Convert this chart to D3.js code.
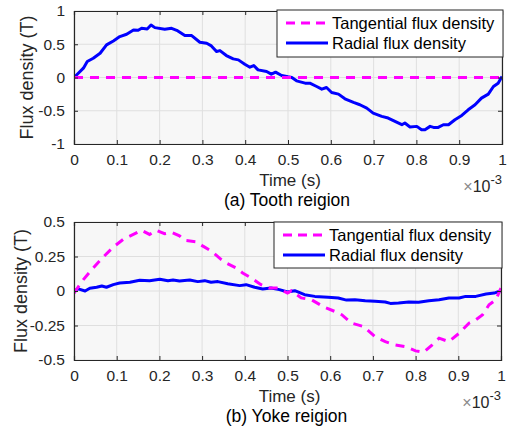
<!DOCTYPE html>
<html>
<head>
<meta charset="utf-8">
<script src="https://cdn.jsdelivr.net/npm/d3@7"></script>
<style>
  body { margin: 0; background: #fff; }
  svg { display: block; font-family: Arial, "Liberation Sans", sans-serif; }
</style>
</head>
<body>
<svg id="chart" width="515" height="430"></svg>
<script>
// time in units of 1e-3 s
const xTicks = [0, 0.1, 0.2, 0.3, 0.4, 0.5, 0.6, 0.7, 0.8, 0.9, 1];
const toothYTicks = [-1, -0.5, 0, 0.5, 1];
const yokeYTicks = [-0.5, -0.25, 0, 0.25, 0.5];
const legendLabels = ['Tangential flux density', 'Radial flux density'];

const toothTangential = [[0, 0], [1, 0]];
const toothRadial = [
  [0, 0], [0.022, 0.14], [0.031, 0.24], [0.045, 0.29], [0.061, 0.365], [0.076, 0.49],
  [0.092, 0.55], [0.107, 0.615], [0.123, 0.65], [0.139, 0.715], [0.150, 0.71], [0.158, 0.74],
  [0.171, 0.73], [0.180, 0.79], [0.189, 0.75], [0.212, 0.725], [0.228, 0.74], [0.240, 0.71],
  [0.259, 0.63], [0.275, 0.63], [0.294, 0.53], [0.310, 0.515], [0.321, 0.475], [0.333, 0.39],
  [0.341, 0.405], [0.356, 0.33], [0.372, 0.28], [0.384, 0.265], [0.399, 0.2], [0.411, 0.155],
  [0.420, 0.18], [0.430, 0.115], [0.450, 0.09], [0.461, 0.05], [0.471, 0.08], [0.485, 0.03],
  [0.500, 0.01], [0.509, 0], [0.520, -0.05], [0.540, -0.085], [0.551, -0.085], [0.567, -0.135],
  [0.579, -0.175], [0.590, -0.15], [0.602, -0.225], [0.618, -0.25], [0.633, -0.32], [0.653, -0.375],
  [0.668, -0.41], [0.684, -0.46], [0.699, -0.535], [0.719, -0.585], [0.734, -0.61], [0.750, -0.66],
  [0.766, -0.71], [0.773, -0.685], [0.785, -0.745], [0.801, -0.735], [0.812, -0.785], [0.820, -0.785],
  [0.832, -0.735], [0.840, -0.75], [0.851, -0.75], [0.863, -0.71], [0.875, -0.71], [0.890, -0.635],
  [0.906, -0.57], [0.921, -0.485], [0.937, -0.41], [0.952, -0.31], [0.968, -0.25], [0.980, -0.135],
  [0.991, -0.085], [1.000, 0.015]
];

const yokeTangential = [
  [0, -0.015], [0.022, 0.083], [0.045, 0.167], [0.068, 0.245], [0.092, 0.318], [0.115, 0.374],
  [0.139, 0.41], [0.158, 0.44], [0.177, 0.41], [0.193, 0.44], [0.212, 0.415], [0.228, 0.425],
  [0.247, 0.4], [0.259, 0.367], [0.286, 0.357], [0.302, 0.325], [0.321, 0.29], [0.345, 0.228],
  [0.356, 0.204], [0.380, 0.167], [0.395, 0.131], [0.415, 0.095], [0.438, 0.046], [0.458, 0.022],
  [0.477, 0.022], [0.500, -0.015], [0.509, 0.002], [0.532, -0.05], [0.556, -0.063], [0.587, -0.119],
  [0.611, -0.148], [0.627, -0.172], [0.650, -0.233], [0.678, -0.257], [0.705, -0.33], [0.729, -0.367],
  [0.752, -0.39], [0.776, -0.403], [0.800, -0.434], [0.819, -0.444], [0.839, -0.39], [0.855, -0.342],
  [0.878, -0.367], [0.902, -0.306], [0.925, -0.233], [0.941, -0.209], [0.957, -0.172], [0.972, -0.1],
  [0.988, -0.063], [1.000, 0.022]
];
const yokeRadial = [
  [0, 0], [0.010, 0.015], [0.026, 0.0], [0.037, 0.02], [0.053, 0.027], [0.065, 0.036],
  [0.076, 0.027], [0.092, 0.046], [0.107, 0.058], [0.131, 0.063], [0.154, 0.078], [0.177, 0.075],
  [0.201, 0.085], [0.220, 0.075], [0.232, 0.08], [0.247, 0.073], [0.271, 0.08], [0.290, 0.068],
  [0.306, 0.075], [0.321, 0.063], [0.337, 0.068], [0.360, 0.053], [0.388, 0.039], [0.403, 0.046],
  [0.423, 0.027], [0.442, 0.015], [0.461, 0.022], [0.481, 0.01], [0.500, -0.007], [0.517, 0.002],
  [0.540, -0.027], [0.564, -0.039], [0.595, -0.046], [0.619, -0.051], [0.638, -0.066], [0.658, -0.063],
  [0.682, -0.07], [0.705, -0.075], [0.729, -0.08], [0.741, -0.09], [0.760, -0.087], [0.784, -0.08],
  [0.807, -0.082], [0.831, -0.07], [0.855, -0.063], [0.878, -0.051], [0.902, -0.051], [0.917, -0.039],
  [0.941, -0.039], [0.965, -0.022], [0.984, -0.015], [1.000, 0.002]
];

const textColor = '#262626';
const svg = d3.select('#chart');

const drawPanel = (p, id) => {
  const x = d3.scaleLinear().domain([0, 1]).range([p.left, p.right]);
  const y = d3.scaleLinear().domain(p.yDomain).range([p.bottom, p.top]);
  const g = svg.append('g');

  g.append('rect')
    .attr('x', p.left).attr('y', p.top)
    .attr('width', p.right - p.left).attr('height', p.bottom - p.top)
    .attr('fill', '#f7f7f7');

  // grid
  g.selectAll('.gx').data(xTicks).enter().append('line')
    .attr('x1', d => x(d)).attr('x2', d => x(d))
    .attr('y1', p.top).attr('y2', p.bottom)
    .attr('stroke', '#dfdfdf');
  g.selectAll('.gy').data(p.yTicks).enter().append('line')
    .attr('y1', d => y(d)).attr('y2', d => y(d))
    .attr('x1', p.left).attr('x2', p.right)
    .attr('stroke', '#dfdfdf');

  g.append('clipPath').attr('id', 'clip' + id).append('rect')
    .attr('x', p.left).attr('y', p.top)
    .attr('width', p.right - p.left).attr('height', p.bottom - p.top);

  const line = d3.line().x(d => x(d[0])).y(d => y(d[1]));
  const lines = g.append('g').attr('clip-path', `url(#clip${id})`);
  lines.append('path').datum(p.radial)
    .attr('d', line).attr('fill', 'none')
    .attr('stroke', '#0000ff').attr('stroke-width', 3)
    .attr('stroke-linejoin', 'round');
  lines.append('path').datum(p.tangential)
    .attr('d', line).attr('fill', 'none')
    .attr('stroke', '#ff00ff').attr('stroke-width', 3)
    .attr('stroke-dasharray', '9,7');

  // axes with inward ticks on all four sides
  const axB = g.append('g').attr('transform', `translate(0,${p.bottom})`)
    .call(d3.axisBottom(x).tickValues(xTicks).tickSize(-4).tickPadding(10).tickFormat(d => String(d)));
  const axT = g.append('g').attr('transform', `translate(0,${p.top})`)
    .call(d3.axisTop(x).tickValues(xTicks).tickSize(-4).tickFormat(''));
  const axL = g.append('g').attr('transform', `translate(${p.left},0)`)
    .call(d3.axisLeft(y).tickValues(p.yTicks).tickSize(-4).tickPadding(9).tickFormat(d => String(d)));
  const axR = g.append('g').attr('transform', `translate(${p.right},0)`)
    .call(d3.axisRight(y).tickValues(p.yTicks).tickSize(-4).tickFormat(''));
  [axB, axT, axL, axR].forEach(a => {
    a.selectAll('path').attr('stroke', textColor).attr('stroke-width', 1.2);
    a.selectAll('line').attr('stroke', textColor);
    a.selectAll('text').attr('fill', textColor).style('font-size', '15.5px')
      .style('font-family', 'Arial, "Liberation Sans", sans-serif');
  });

  // labels
  const midX = (p.left + p.right) / 2;
  g.append('text').attr('x', midX + 2).attr('y', p.bottom + 42)
    .attr('text-anchor', 'middle').attr('fill', textColor)
    .style('font-size', '17px').text('Time (s)');
  g.append('text').attr('x', midX - 1).attr('y', p.bottom + 62)
    .attr('text-anchor', 'middle').attr('fill', '#000')
    .style('font-size', '17.5px').text(p.caption);
  g.append('text')
    .attr('transform', `translate(${p.labelX},${(p.top + p.bottom) / 2}) rotate(-90)`)
    .attr('text-anchor', 'middle').attr('fill', textColor)
    .style('font-size', '18px').text('Flux density (T)');

  const exp = g.append('text').attr('x', p.right).attr('y', p.bottom + 48)
    .attr('text-anchor', 'end').attr('fill', textColor).style('font-size', '16px');
  exp.append('tspan').attr('fill', '#8a8a8a').text('×');
  exp.append('tspan').text('10');
  exp.append('tspan').attr('dy', -8).style('font-size', '13px').text('-3');

  // legend
  const L = p.legend;
  g.append('rect').attr('x', L.x).attr('y', L.y)
    .attr('width', L.w).attr('height', L.h)
    .attr('fill', '#ffffff').attr('stroke', '#262626').attr('stroke-width', 1);
  const styles = [
    { color: '#ff00ff', dash: '9,6' },
    { color: '#0000ff', dash: null }
  ];
  legendLabels.forEach((label, i) => {
    const cy = L.y + 13 + i * 20;
    g.append('line')
      .attr('x1', L.x + 9).attr('x2', L.x + 51)
      .attr('y1', cy).attr('y2', cy)
      .attr('stroke', styles[i].color).attr('stroke-width', 3)
      .attr('stroke-dasharray', styles[i].dash);
    g.append('text').attr('x', L.x + 55).attr('y', cy + 6)
      .attr('fill', '#000').style('font-size', '16.5px').text(label);
  });
};

drawPanel({
  left: 74, right: 502, top: 11, bottom: 144,
  yDomain: [-1, 1], yTicks: toothYTicks,
  radial: toothRadial, tangential: toothTangential,
  caption: '(a) Tooth reigion', labelX: 33,
  legend: { x: 277, y: 10, w: 226, h: 47 }
}, 'a');

drawPanel({
  left: 74, right: 501, top: 222, bottom: 360,
  yDomain: [-0.5, 0.5], yTicks: yokeYTicks,
  radial: yokeRadial, tangential: yokeTangential,
  caption: '(b) Yoke reigion', labelX: 27,
  legend: { x: 274, y: 222, w: 228, h: 46 }
}, 'b');
</script>
</body>
</html>
